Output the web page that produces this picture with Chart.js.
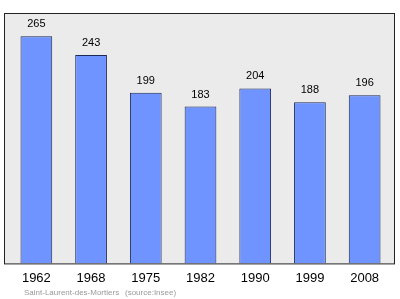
<!DOCTYPE html>
<html>
<head>
<meta charset="utf-8">
<script src="https://cdn.jsdelivr.net/npm/chart.js@4"></script>
<style>
  html, body { margin: 0; padding: 0; background: #fff; }
  #wrap { width: 400px; height: 299px; }
</style>
</head>
<body>
<div id="wrap"><canvas id="chart" width="400" height="299"></canvas></div>
<script>
const years = ['1962', '1968', '1975', '1982', '1990', '1999', '2008'];
const population = [265, 243, 199, 183, 204, 188, 196];
const place = 'Saint-Laurent-des-Mortiers';
const source = '(source:Insee)';

const ctx = document.getElementById('chart');

// grey frame behind the bars, a bit wider than the chart area
const frame = {
    id: 'frame',
    beforeDatasetsDraw(chart) {
        const a = chart.chartArea;
        const c = chart.ctx;
        c.save();
        c.fillStyle = '#ebebeb';
        c.fillRect(a.left - 5, a.top, a.right - a.left + 8, a.bottom - a.top);
        c.restore();
    },
    afterDatasetsDraw(chart) {
        const a = chart.ctx;
        const area = chart.chartArea;
        a.save();
        a.strokeStyle = '#222';
        a.lineWidth = 1;
        a.strokeRect(area.left - 4.5, area.top + 0.5, area.right - area.left + 7, area.bottom - area.top);

        // value labels on top of bars
        const meta = chart.getDatasetMeta(0);
        a.fillStyle = '#000';
        a.font = '11px "Liberation Sans", sans-serif';
        a.textAlign = 'center';
        a.textBaseline = 'middle';
        meta.data.forEach((bar, i) => {
            a.fillText(population[i], bar.x, bar.y - 12);
        });

        a.fillStyle = '#9a9a9a';
        a.font = '8px "Liberation Sans", sans-serif';
        a.textAlign = 'left';
        a.fillText(place, 24, 293);
        a.fillText(source, 125, 293);
        a.restore();
    }
};

new Chart(ctx, {
    type: 'bar',
    data: {
        labels: years,
        datasets: [{
            data: population,
            backgroundColor: '#7094ff',
            borderColor: '#1c2a55',
            borderWidth: 1,
            barPercentage: 0.58,
            categoryPercentage: 1
        }]
    },
    options: {
        responsive: false,
        animation: false,
        layout: { padding: { left: 9, right: 8, top: 13, bottom: 6 } },
        plugins: { legend: { display: false }, tooltip: { enabled: false } },
        scales: {
            y: { display: false, min: 0, max: 292 },
            x: {
                grid: { display: false, drawTicks: false },
                border: { display: false },
                ticks: {
                    padding: 7,
                    color: '#000',
                    font: { family: '"Liberation Sans", sans-serif', size: 13 }
                }
            }
        }
    },
    plugins: [frame]
});
</script>
</body>
</html>
